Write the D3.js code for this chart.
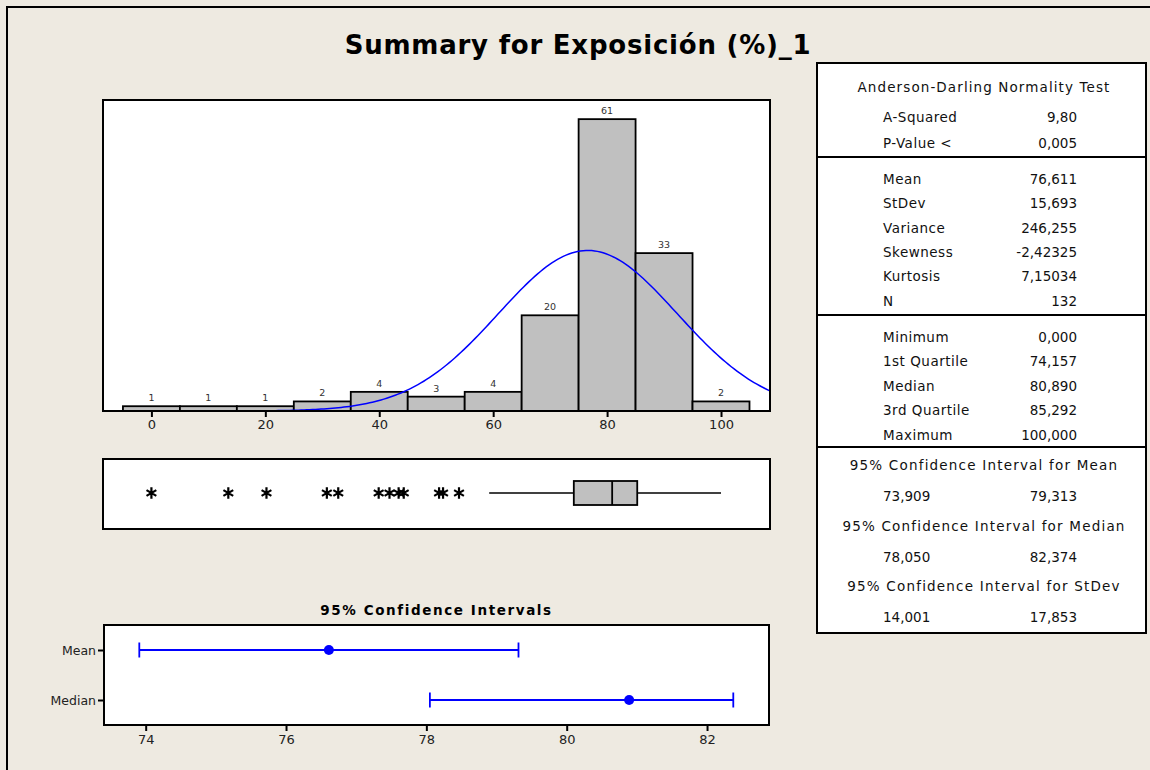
<!DOCTYPE html>
<html>
<head>
<meta charset="utf-8">
<script src="https://cdn.jsdelivr.net/npm/d3@7"></script>
<style>
  body { margin: 0; background: #EEEAE1; }
  svg { display: block; }
</style>
</head>
<body>
<div id="chart"></div>
<script>
// histogram data
const binCenters = [0, 10, 20, 30, 40, 50, 60, 70, 80, 90, 100];
const binCounts = [1, 1, 1, 2, 4, 3, 4, 20, 61, 33, 2];
const binWidth = 10;
const histTicks = [0, 20, 40, 60, 80, 100];

// fitted normal
const fitMean = 76.611;
const fitStDev = 15.693;
const fitN = 132;

// boxplot
const outliers = [0, 13.5, 20.2, 30.8, 32.8, 39.9, 41.8, 43.4, 44.3, 50.5, 51.2, 54.0];
const boxQ1 = 74.157;
const boxMedian = 80.890;
const boxQ3 = 85.292;
const whiskerLow = 59.3;
const whiskerHigh = 100;

// confidence intervals
const ciCategories = ["Mean", "Median"];
const ciLow = [73.909, 78.050];
const ciHigh = [79.313, 82.374];
const ciPoint = [76.611, 80.890];
const ciTicks = [74, 76, 78, 80, 82];

// stats table
const adRows = [["A-Squared", "9,80"], ["P-Value <", "0,005"]];
const momentRows = [["Mean", "76,611"], ["StDev", "15,693"], ["Variance", "246,255"],
  ["Skewness", "-2,42325"], ["Kurtosis", "7,15034"], ["N", "132"]];
const quantileRows = [["Minimum", "0,000"], ["1st Quartile", "74,157"], ["Median", "80,890"],
  ["3rd Quartile", "85,292"], ["Maximum", "100,000"]];
const ciTitles = ["95% Confidence Interval for Mean", "95% Confidence Interval for Median",
  "95% Confidence Interval for StDev"];
const ciValues = [["73,909", "79,313"], ["78,050", "82,374"], ["14,001", "17,853"]];

const width = 1150, height = 770;
const font = "'DejaVu Sans', Verdana, sans-serif";

const svg = d3.select("#chart").append("svg")
  .attr("width", width)
  .attr("height", height)
  .style("font-family", font);

svg.append("rect").attr("width", width).attr("height", height).attr("fill", "#EEEAE1");

// outer frame (only left and top edges visible)
svg.append("path")
  .attr("d", "M7,770V7H1150")
  .attr("fill", "none").attr("stroke", "#000").attr("stroke-width", 2);

// title
const title = svg.append("text")
  .attr("x", 578).attr("y", 54)
  .attr("text-anchor", "middle")
  .attr("font-size", 26).attr("font-weight", "bold")
  .text("Summary for Exposición (%)_1");
{
  const len = title.node().getComputedTextLength();
  const n = title.text().length;
  title.attr("letter-spacing", ((466 - len) / (n - 1)).toFixed(2));
}

// ---------- histogram ----------
const hx = d3.scaleLinear().domain([-8.5, 108.6]).range([103, 770]);
const hy = d3.scaleLinear().domain([0, 65]).range([411, 100]);

svg.append("rect")
  .attr("x", hx.range()[0]).attr("y", hy.range()[1])
  .attr("width", hx.range()[1] - hx.range()[0])
  .attr("height", hy.range()[0] - hy.range()[1])
  .attr("fill", "#fff");

const histG = svg.append("g");
histG.selectAll("rect.bar")
  .data(binCenters)
  .join("rect")
  .attr("class", "bar")
  .attr("x", d => hx(d - binWidth / 2))
  .attr("width", d => hx(d + binWidth / 2) - hx(d - binWidth / 2))
  .attr("y", (d, i) => hy(binCounts[i]))
  .attr("height", (d, i) => hy(0) - hy(binCounts[i]))
  .attr("fill", "#C0C0C0")
  .attr("stroke", "#000")
  .attr("stroke-width", 1.8);

histG.selectAll("text.count")
  .data(binCenters)
  .join("text")
  .attr("class", "count")
  .attr("x", d => hx(d))
  .attr("y", (d, i) => hy(binCounts[i]) - 5)
  .attr("text-anchor", "middle")
  .attr("font-size", 9.5)
  .attr("fill", "#333")
  .text((d, i) => binCounts[i]);

// normal curve
svg.append("clipPath").attr("id", "histClip")
  .append("rect")
  .attr("x", hx.range()[0]).attr("y", hy.range()[1])
  .attr("width", hx.range()[1] - hx.range()[0])
  .attr("height", hy.range()[0] - hy.range()[1]);

const curveX = d3.range(18.3, 110, 0.5);
const dens = x => fitN * binWidth / (fitStDev * Math.sqrt(2 * Math.PI)) *
  Math.exp(-0.5 * Math.pow((x - fitMean) / fitStDev, 2));
svg.append("path")
  .datum(curveX)
  .attr("clip-path", "url(#histClip)")
  .attr("d", d3.line().x(d => hx(d)).y(d => hy(dens(d))))
  .attr("fill", "none")
  .attr("stroke", "#0000FF")
  .attr("stroke-width", 1.5);

svg.append("rect")
  .attr("x", hx.range()[0]).attr("y", hy.range()[1])
  .attr("width", hx.range()[1] - hx.range()[0])
  .attr("height", hy.range()[0] - hy.range()[1])
  .attr("fill", "none").attr("stroke", "#000").attr("stroke-width", 2);

const hAxis = svg.append("g")
  .attr("transform", `translate(0,${hy(0)})`)
  .call(d3.axisBottom(hx).tickValues(histTicks).tickSize(6).tickPadding(3).tickFormat(d3.format("d")));
hAxis.select(".domain").remove();
hAxis.selectAll("line").attr("stroke-width", 2);
hAxis.selectAll("text").attr("font-size", 13).attr("font-family", font).attr("fill", "#222");

// ---------- boxplot ----------
const bTop = 459, bBot = 529, bMid = 493;
svg.append("rect")
  .attr("x", hx.range()[0]).attr("y", bTop)
  .attr("width", hx.range()[1] - hx.range()[0]).attr("height", bBot - bTop)
  .attr("fill", "#fff").attr("stroke", "#000").attr("stroke-width", 2);

svg.append("line")
  .attr("x1", hx(whiskerLow)).attr("x2", hx(boxQ1))
  .attr("y1", bMid).attr("y2", bMid)
  .attr("stroke", "#000").attr("stroke-width", 1.5);
svg.append("line")
  .attr("x1", hx(boxQ3)).attr("x2", hx(whiskerHigh))
  .attr("y1", bMid).attr("y2", bMid)
  .attr("stroke", "#000").attr("stroke-width", 1.5);
svg.append("rect")
  .attr("x", hx(boxQ1)).attr("width", hx(boxQ3) - hx(boxQ1))
  .attr("y", 481).attr("height", 24)
  .attr("fill", "#C0C0C0").attr("stroke", "#000").attr("stroke-width", 1.8);
svg.append("line")
  .attr("x1", hx(boxMedian)).attr("x2", hx(boxMedian))
  .attr("y1", 481).attr("y2", 505)
  .attr("stroke", "#000").attr("stroke-width", 1.8);

svg.selectAll("path.outlier")
  .data(outliers)
  .join("path")
  .attr("class", "outlier")
  .attr("transform", d => `translate(${hx(d)},${bMid})`)
  .attr("d", d3.symbol().type(d3.symbolAsterisk).size(90))
  .attr("fill", "none")
  .attr("stroke", "#000")
  .attr("stroke-width", 2.2);

// ---------- confidence intervals ----------
svg.append("text")
  .attr("x", 436.5).attr("y", 615)
  .attr("text-anchor", "middle")
  .attr("font-size", 13.5).attr("font-weight", "bold")
  .attr("letter-spacing", 1.6)
  .text("95% Confidence Intervals");

const cx = d3.scaleLinear().domain([73.406, 82.883]).range([104, 769]);
const cy = d3.scalePoint().domain(ciCategories).range([650, 700]);

svg.append("rect")
  .attr("x", 104).attr("y", 625).attr("width", 665).attr("height", 100)
  .attr("fill", "#fff").attr("stroke", "#000").attr("stroke-width", 2);

const ciG = svg.append("g");
ciCategories.forEach((c, i) => {
  const y = cy(c);
  ciG.append("line")
    .attr("x1", cx(ciLow[i])).attr("x2", cx(ciHigh[i]))
    .attr("y1", y).attr("y2", y)
    .attr("stroke", "#0000FF").attr("stroke-width", 1.8);
  [ciLow[i], ciHigh[i]].forEach(v => {
    ciG.append("line")
      .attr("x1", cx(v)).attr("x2", cx(v))
      .attr("y1", y - 7.5).attr("y2", y + 7.5)
      .attr("stroke", "#0000FF").attr("stroke-width", 1.8);
  });
  ciG.append("circle")
    .attr("cx", cx(ciPoint[i])).attr("cy", y).attr("r", 5)
    .attr("fill", "#0000FF");
});

const cxAxis = svg.append("g")
  .attr("transform", "translate(0,725)")
  .call(d3.axisBottom(cx).tickValues(ciTicks).tickSize(6).tickPadding(4).tickFormat(d3.format("d")));
cxAxis.select(".domain").remove();
cxAxis.selectAll("line").attr("stroke-width", 2);
cxAxis.selectAll("text").attr("font-size", 13).attr("font-family", font).attr("fill", "#222");

const cyAxis = svg.append("g")
  .attr("transform", "translate(104,0)")
  .call(d3.axisLeft(cy).tickSize(6).tickPadding(2));
cyAxis.select(".domain").remove();
cyAxis.selectAll("line").attr("stroke-width", 2);
cyAxis.selectAll("text").attr("font-size", 12.5).attr("font-family", font).attr("fill", "#222");

// ---------- stats table ----------
const tL = 817, tR = 1146, tTop = 63, tBot = 633;
const labX = 883, valX = 1077, midX = 984;
const tbl = svg.append("g").attr("font-size", 13.5).attr("fill", "#111");

tbl.append("rect")
  .attr("x", tL).attr("y", tTop).attr("width", tR - tL).attr("height", tBot - tTop)
  .attr("fill", "#fff").attr("stroke", "#000").attr("stroke-width", 2);
[157, 315, 447].forEach(y => {
  tbl.append("line").attr("x1", tL).attr("x2", tR).attr("y1", y).attr("y2", y)
    .attr("stroke", "#000").attr("stroke-width", 2);
});

tbl.append("text").attr("x", midX).attr("y", 92).attr("text-anchor", "middle")
  .attr("letter-spacing", 1.1)
  .text("Anderson-Darling Normality Test");

function rows(data, y0, step) {
  data.forEach((r, i) => {
    const y = y0 + i * step;
    tbl.append("text").attr("x", labX).attr("y", y).attr("letter-spacing", 0.5).text(r[0]);
    tbl.append("text").attr("x", valX).attr("y", y).attr("text-anchor", "end").text(r[1]);
  });
}
rows(adRows, 122, 25.5);
rows(momentRows, 184, 24.3);
rows(quantileRows, 341.5, 24.5);

ciTitles.forEach((t, i) => {
  const y = 470 + i * 60.7;
  tbl.append("text").attr("x", midX).attr("y", y).attr("text-anchor", "middle")
    .attr("letter-spacing", 1.2).text(t);
  tbl.append("text").attr("x", labX).attr("y", y + 31).text(ciValues[i][0]);
  tbl.append("text").attr("x", valX).attr("y", y + 31).attr("text-anchor", "end").text(ciValues[i][1]);
});
</script>
</body>
</html>
